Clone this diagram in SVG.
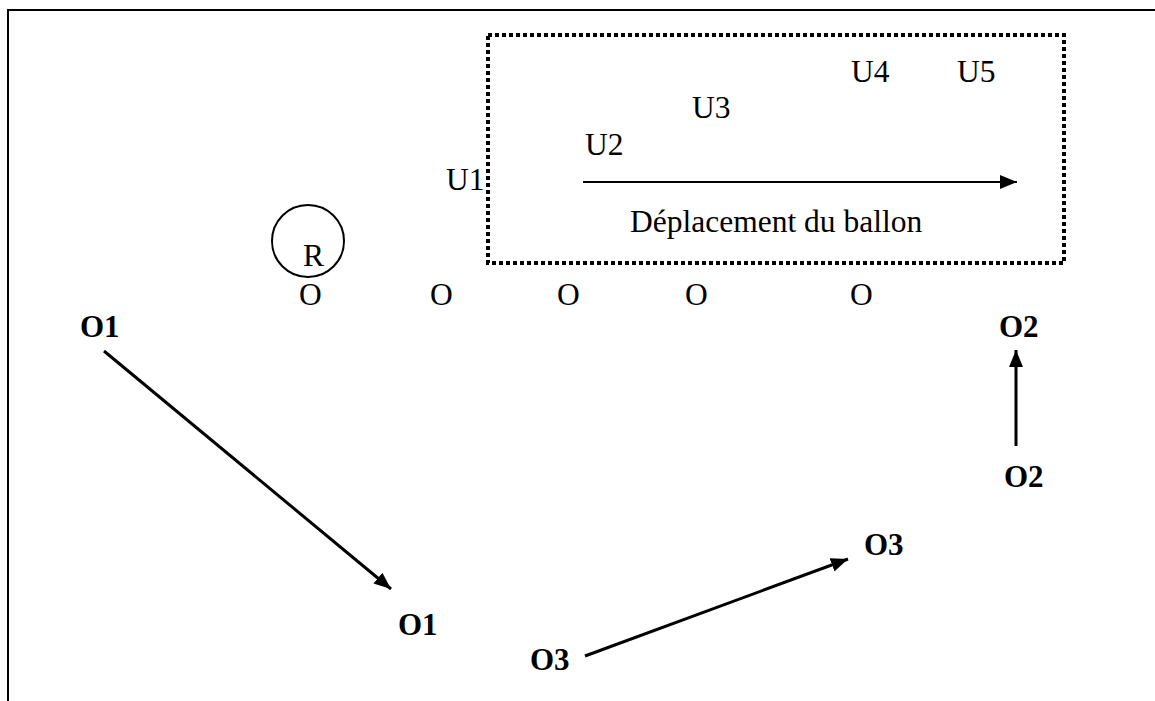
<svg xmlns="http://www.w3.org/2000/svg" width="1155" height="701" viewBox="0 0 1155 701">
<defs>
<marker id="ah" markerUnits="userSpaceOnUse" viewBox="0 0 17 14" refX="17" refY="7" markerWidth="17" markerHeight="14" orient="auto"><path d="M0,0 L17,7 L0,14 Z" fill="#000"/></marker>
</defs>
<style>
.t{font-family:"Liberation Serif","Times New Roman",serif;font-size:31.5px;fill:#000}
.b{font-family:"Liberation Serif","Times New Roman",serif;font-size:31px;font-weight:bold;fill:#000}
.c{stroke:#000;stroke-width:3;fill:none}
</style>
<rect width="1155" height="701" fill="#fff"/>
<path d="M8,701 V10 H1155" fill="none" stroke="#000" stroke-width="2"/>
<g id="box">
<rect x="488" y="35" width="576" height="228" fill="none" stroke="#000" stroke-width="4" stroke-dasharray="4,3"/>
</g>
<g id="labels">
<text class="t" x="851" y="82">U4</text>
<text class="t" x="957" y="82">U5</text>
<text class="t" x="692" y="118">U3</text>
<text class="t" x="585" y="155">U2</text>
<text class="t" x="446" y="190">U1</text>
<text class="t" x="630" y="232">Déplacement du ballon</text>
</g>
<g id="ball">
<circle cx="308" cy="241" r="36" fill="none" stroke="#000" stroke-width="2"/>
<text class="t" x="303" y="266">R</text>
</g>
<g id="players">
<text class="t" x="299" y="305">O</text>
<text class="t" x="430" y="305">O</text>
<text class="t" x="557" y="305">O</text>
<text class="t" x="685" y="305">O</text>
<text class="t" x="850" y="305">O</text>
</g>
<g id="o1a"><text class="b" x="80" y="337">O1</text></g>
<g id="o1b"><text class="b" x="398" y="635">O1</text></g>
<g id="o2a"><text class="b" x="999" y="337">O2</text></g>
<g id="o2b"><text class="b" x="1004" y="487">O2</text></g>
<g id="o3a"><text class="b" x="864" y="555">O3</text></g>
<g id="o3b"><text class="b" x="530" y="670">O3</text></g>
<g id="connectors">
<line x1="583" y1="182" x2="1017" y2="182" stroke="#000" stroke-width="2" marker-end="url(#ah)"/>
<line class="c" x1="104" y1="351" x2="391" y2="589" marker-end="url(#ah)"/>
<line class="c" x1="585" y1="656" x2="848" y2="559" marker-end="url(#ah)"/>
<line class="c" x1="1016" y1="446" x2="1016" y2="350" marker-end="url(#ah)"/>
</g>
</svg>
